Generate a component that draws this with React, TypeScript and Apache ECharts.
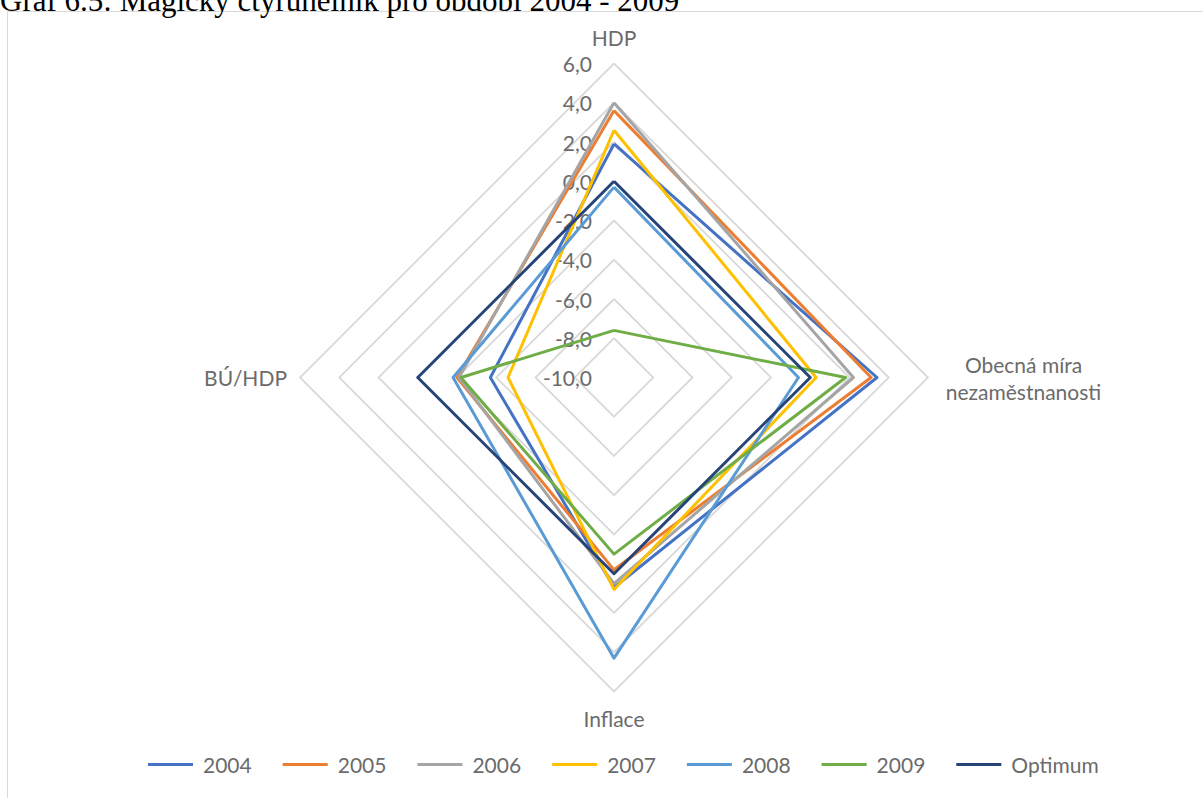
import React, { useEffect, useRef } from "react";
import * as echarts from "echarts";

// Axes in the reference's clockwise order: top, right, bottom, left
const categories = ["HDP", "Obecná míra nezaměstnanosti", "Inflace", "BÚ/HDP"];
const seriesNames = ["2004", "2005", "2006", "2007", "2008", "2009", "Optimum"];
const values2004 = [1.9, 3.4, 0.7, -3.7];
const values2005 = [3.6, 3.1, -0.2, -2.0];
const values2006 = [4.0, 2.2, 0.5, -2.1];
const values2007 = [2.6, 0.3, 0.8, -4.6];
const values2008 = [-0.3, -0.6, 4.3, -1.8];
const values2009 = [-7.6, 1.8, -1.0, -2.2];
const valuesOptimum = [0.0, 0.0, 0.0, 0.0];
const axisMin = -10;
const axisMax = 6;
const tickCount = 8;
const title = "Graf 6.5: Magický čtyřúhelník pro období 2004 - 2009";

const colors = ["#4472C4", "#ED7D31", "#A5A5A5", "#FFC000", "#5B9BD5", "#70AD47", "#264478"];

// ECharts places radar indicators counter-clockwise; reorder so the picture runs clockwise
const order = [0, 3, 2, 1];

export default function App() {
  const ref = useRef<HTMLDivElement>(null);
  useEffect(() => {
    if (!ref.current) return;
    const chart = echarts.init(ref.current, null, { renderer: "svg" });
    const allValues = [values2004, values2005, values2006, values2007, values2008, values2009, valuesOptimum];
    const font = "Lato";
    const textColor = "#6b6b6b";
    const fs = 21;
    const indicator = order.map((i, k) => ({
      name: categories[i],
      min: axisMin,
      max: axisMax,
      axisLabel: k === 0 ? { show: true } : { show: false },
    }));
    chart.setOption({
      animation: false,
      backgroundColor: "#ffffff",
      color: colors,
      graphic: [
        {
          type: "rect",
          shape: { x: 7.5, y: 11.5, width: 1300, height: 900 },
          style: { fill: "none", stroke: "#d9d9d9", lineWidth: 1 },
          silent: true,
        },
        {
          type: "text",
          x: 0,
          y: 16,
          style: {
            text: title,
            font: '31px "Liberation Serif"',
            fill: "#000000",
            textVerticalAlign: "bottom",
            verticalAlign: "bottom",
          },
          silent: true,
        },
      ],
      legend: {
        data: seriesNames,
        bottom: 18,
        left: 143,
        icon: "rect",
        itemWidth: 45,
        itemHeight: 3,
        itemGap: 31,
        textStyle: { fontFamily: font, fontSize: fs, color: textColor, padding: [0, 0, 0, 5] },
      },
      radar: {
        center: [614, 377.5],
        radius: 314,
        startAngle: 90,
        shape: "polygon",
        splitNumber: tickCount,
        indicator,
        nameGap: 13,
        axisName: {
          color: textColor,
          fontFamily: font,
          fontSize: fs,
          lineHeight: 27,
          formatter: (name: string) =>
            name === "Obecná míra nezaměstnanosti"
              ? "{c|Obecná míra}\n{c|nezaměstnanosti}"
              : name,
          rich: {
            c: { width: 165, align: "center", fontFamily: font, fontSize: fs, color: textColor, lineHeight: 27 },
          },
        },
        axisLine: { show: false },
        axisTick: { show: false },
        splitArea: { show: false },
        splitLine: { lineStyle: { color: "#d9d9d9", width: 1.8 } },
        axisLabel: {
          show: false,
          fontFamily: font,
          fontSize: fs,
          color: textColor,
          margin: 22,
          formatter: (v: number) => v.toFixed(1).replace(".", ","),
        },
      },
      series: seriesNames.map((name, s) => ({
        type: "radar",
        name,
        symbol: "none",
        z: 2 + s,
        lineStyle: { width: 3, color: colors[s] },
        itemStyle: { color: colors[s] },
        data: [{ name, value: order.map((i) => allValues[s][i]) }],
      })),
    });
    return () => chart.dispose();
  }, []);
  return (
    <div
      ref={ref}
      style={{ position: "fixed", left: 0, top: 0, width: 1203, height: 798, background: "#fff" }}
    />
  );
}
